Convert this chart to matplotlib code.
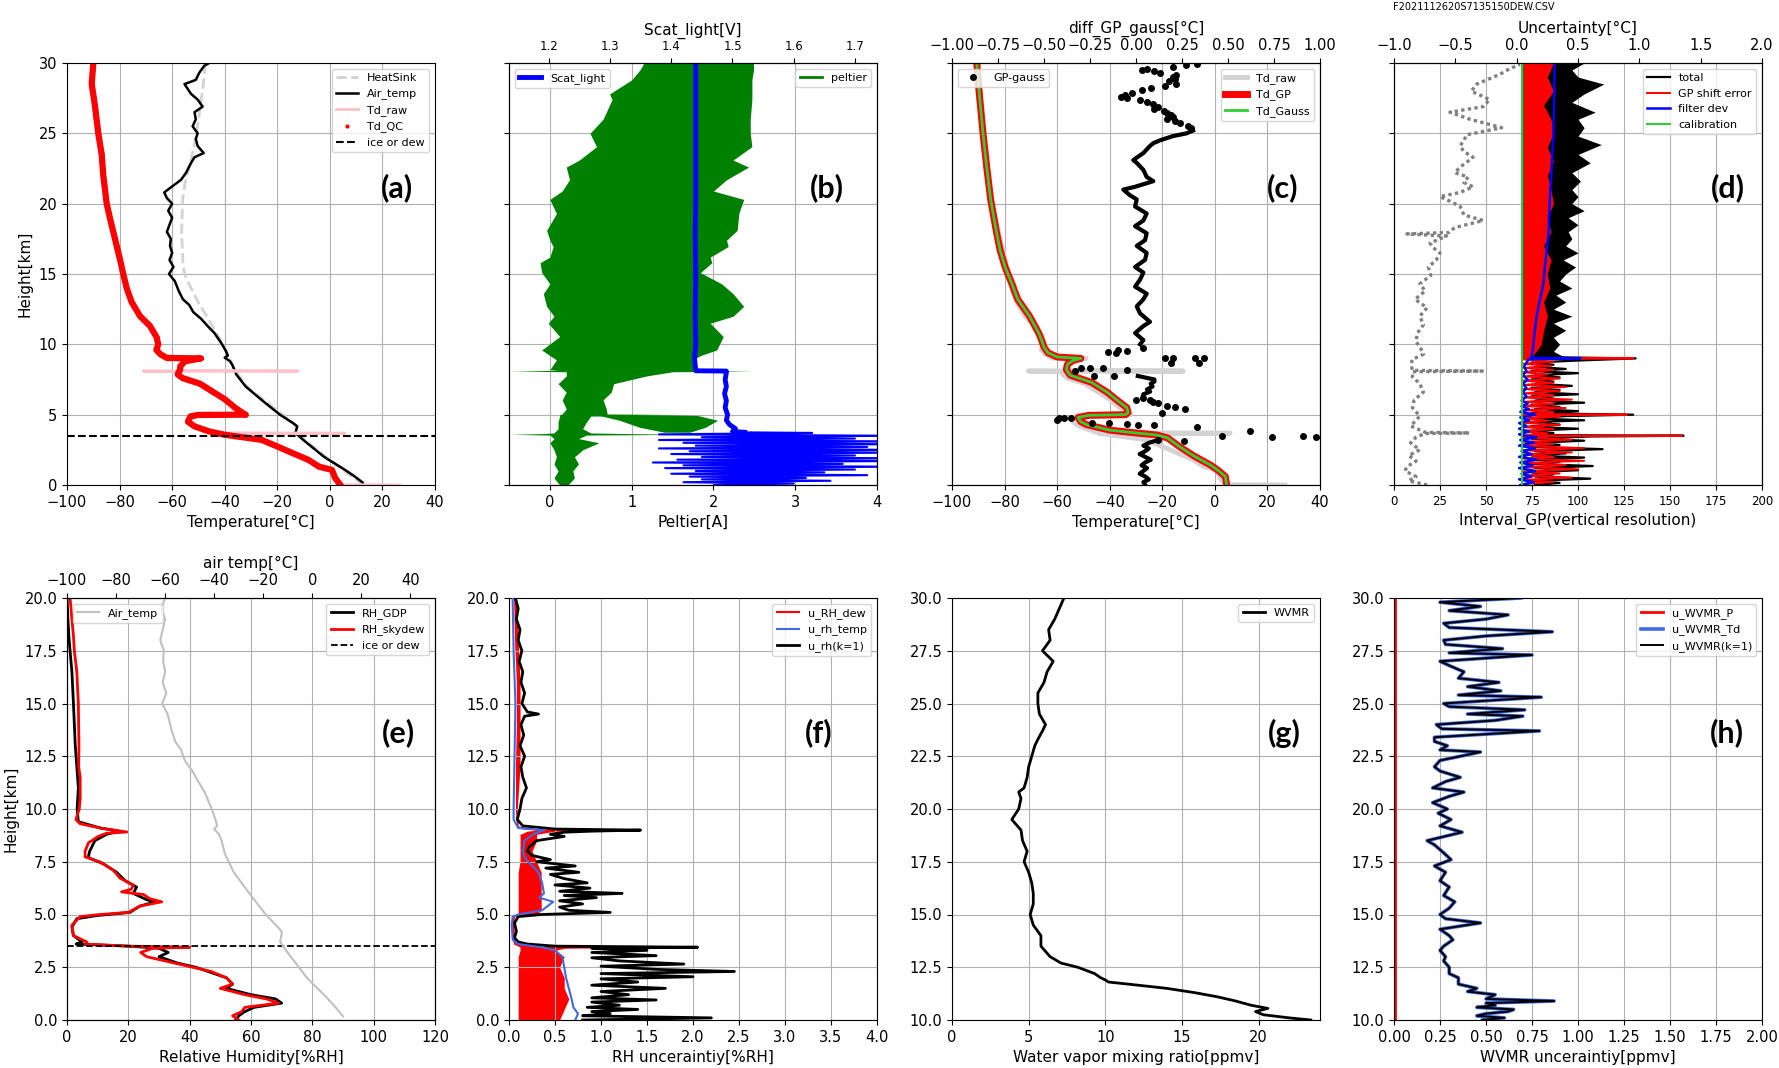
import numpy as np
import matplotlib
matplotlib.use('Agg')
import matplotlib.pyplot as plt

nan = np.nan

# ---------------- (a) temperature profiles [km, degC] ----------------
air_h = [0.17, 0.6, 1.07, 2.0, 3.2, 3.7, 4.17, 4.4, 5.0, 6.05, 7.0, 7.86, 8.5, 8.8, 9.05, 9.2, 9.5, 10.0, 10.8, 11.3,
         11.8, 12.3, 12.8, 13.2, 13.8, 14.5, 15.0, 15.5, 16.0, 16.5, 17.0, 17.5, 18.0, 18.5, 19.0, 19.5, 20.0, 20.4,
         20.8, 21.0, 21.7, 22.2, 22.9, 23.3, 23.6, 24.1, 24.6, 25.0, 25.5, 26.0, 26.5, 26.9, 27.4, 27.8, 28.5, 28.8,
         29.3, 29.8, 30.0]
air_t = [12.5, 9.5, 5.8, -2.2, -10.1, -13.1, -12.4, -14.0, -19.0, -26.0, -32.0, -35.6, -37.0, -38.0, -40.0, -38.8,
         -39.5, -41.0, -43.9, -46.5, -48.9, -52.0, -53.5, -55.9, -57.5, -59.0, -61.2, -59.5, -61.0, -60.0, -60.8,
         -60.5, -62.0, -61.0, -60.0, -61.5, -60.0, -62.0, -63.0, -61.6, -56.6, -54.7, -52.8, -51.5, -48.0, -50.3,
         -51.0, -50.3, -52.2, -51.0, -51.5, -48.4, -50.3, -52.8, -55.3, -51.0, -49.7, -47.8, -45.9]

heatsink_h = [0.0, 1.0, 2.0, 3.5, 4.15, 4.6, 7.0, 8.4, 10.0, 10.8, 13.2, 14.8, 15.5, 17.9, 20.3, 21.45, 23.3, 25.0,
              28.8, 30.0]
heatsink_t = [13.0, 5.5, -1.5, -11.5, -12.7, -15.2, -31.7, -36.8, -40.6, -43.1, -50.7, -54.9, -55.8, -56.4, -56.0,
              -55.1, -52.6, -50.7, -47.9, -47.5]

td_qc_h = [0.0, 0.5, 1.07, 1.31, 1.79, 2.26, 2.74, 3.21, 3.57, 3.81, 4.17, 4.5, 4.88, 4.98, 5.0, 5.1, 5.5, 6.1, 6.8,
           7.2, 7.6, 7.86, 8.2, 8.45, 8.8, 9.0, 9.03, 9.3, 9.6, 10.0, 10.5, 11.3, 12.0, 13.0, 14.0, 15.0, 16.0, 17.0,
           18.0, 19.0, 20.0, 22.0, 23.5, 25.0, 27.0, 28.5, 30.0]
td_qc_t = [4.0, 2.0, 0.8, -4.2, -8.2, -14.1, -20.0, -26.0, -40.0, -45.9, -51.5, -54.0, -53.0, -50.0, -32.0, -33.0,
           -36.1, -40.0, -46.0, -49.4, -56.0, -57.9, -57.0, -56.9, -55.0, -49.0, -62.0, -64.5, -66.0, -65.3, -65.9,
           -68.4, -72.2, -75.4, -77.3, -78.6, -79.8, -81.1, -82.4, -83.7, -84.9, -86.2, -86.8, -88.1, -89.4, -90.6,
           -90.0]

td_raw_h = [0.0, 0.02, 0.5, 1.07, 1.31, 1.79, 2.26, 2.74, 3.21, 3.57, 3.66, 3.68, 3.68, 3.7, 3.81, 4.17, 4.5, 4.88,
            4.98, 5.0, 5.1, 5.5, 6.1, 6.8, 7.2, 7.6, 7.86, 8.08, 8.1, 8.1, 8.12, 8.2, 8.45, 8.8, 9.0, 9.03, 9.3, 9.6,
            10.0, 10.5, 11.3, 12.0, 13.0, 14.0, 15.0, 16.0, 17.0, 18.0, 19.0, 20.0, 22.0, 23.5, 25.0, 27.0, 28.5,
            30.0]
td_raw_t = [26.6, 4.0, 2.0, 0.8, -4.2, -8.2, -14.1, -20.0, -26.0, -40.0, -44.0, -44.0, 5.8, -44.0, -45.9, -51.5,
            -54.0, -53.0, -50.0, -32.0, -33.0, -36.1, -40.0, -46.0, -49.4, -56.0, -57.9, -57.0, -71.0, -12.0, -57.0,
            -57.0, -56.9, -55.0, -49.0, -62.0, -64.5, -66.0, -65.3, -65.9, -68.4, -72.2, -75.4, -77.3, -78.6, -79.8,
            -81.1, -82.4, -83.7, -84.9, -86.2, -86.8, -88.1, -89.4, -90.6, -90.0]

ice_dew_h = 3.5

# ---------------- (b) peltier current [A] and scattered light [V] ----------------
peltier_h = [0.0, 0.5, 1.0, 1.5, 2.0, 2.5, 3.0, 3.3, 3.55, 3.6, 3.65, 3.7, 4.0, 4.5, 4.9, 5.0, 5.05, 5.4, 6.05, 6.6,
             7.2, 7.75, 8.05, 8.1, 8.15, 8.2, 8.9, 9.2, 9.6, 10.55, 11.5, 12.0, 12.7, 13.6, 14.3, 15.1, 15.8, 16.2,
             16.95, 17.4, 18.1, 19.3, 20.3, 20.9, 21.7, 22.6, 23.1, 24.05, 25.0, 26.0, 27.4, 27.8, 28.8, 29.5, 30.0]
peltier_lo = [0.12, 0.05, 0.1, 0.05, 0.08, 0.05, 0.0, 0.05, 0.0, -0.49, -0.1, 0.05, 0.1, 0.1, 0.12, 0.12, 0.15, 0.2,
              0.15, 0.2, 0.1, 0.2, 0.2, -0.49, 0.1, 0.0, 0.08, 0.0, -0.1, 0.12, -0.02, 0.05, -0.04, -0.08, 0.0, -0.1,
              -0.12, 0.0, 0.04, 0.0, -0.04, 0.08, 0.0, 0.15, 0.24, 0.2, 0.36, 0.57, 0.49, 0.65, 0.76, 0.73, 1.0, 1.1,
              1.15]
peltier_hi = [0.22, 0.3, 0.28, 0.35, 0.3, 0.4, 0.6, 0.35, 0.45, 1.7, 1.0, 0.5, 0.4, 0.45, 0.5, 1.75, 0.7, 0.69, 0.65,
              0.75, 0.78, 1.18, 1.5, 2.49, 1.75, 1.75, 1.75, 1.84, 2.04, 2.12, 1.96, 2.24, 2.37, 2.24, 2.1, 1.84, 1.98,
              1.96, 2.18, 2.16, 2.29, 2.31, 2.37, 2.0, 2.16, 2.43, 2.24, 2.47, 2.45, 2.45, 2.47, 2.47, 2.47, 2.49,
              2.49]
peltier_wedge_h = [3.75, 4.1, 4.6, 4.95]
peltier_wedge_lo = [1.4, 1.1, 0.85, 0.6]
peltier_wedge_hi = [1.71, 1.9, 2.05, 1.8]

scat_h = [3.75, 3.8, 4.0, 4.3, 4.6, 5.0, 5.5, 6.0, 6.5, 7.0, 7.5, 8.0, 8.1, 8.12, 9.0, 10.0, 12.0, 15.0, 18.0, 20.0,
          22.0, 25.0, 28.0, 30.0]
scat_v = [1.52, 1.50, 1.505, 1.495, 1.49, 1.492, 1.488, 1.49, 1.487, 1.49, 1.488, 1.49, 1.49, 1.44, 1.438, 1.44,
          1.439, 1.44, 1.439, 1.44, 1.44, 1.44, 1.44, 1.44]
scat_noise_h = [0.0, 0.1, 0.2, 0.3, 0.4, 0.5, 0.6, 0.7, 0.8, 0.9, 1.0, 1.1, 1.2, 1.3, 1.4, 1.5, 1.6, 1.7, 1.8, 1.9,
                2.0, 2.1, 2.2, 2.3, 2.4, 2.5, 2.6, 2.7, 2.8, 2.9, 3.0, 3.1, 3.2, 3.3, 3.4, 3.5, 3.6, 3.7, 3.75]
scat_noise_v = [1.47, 1.60, 1.42, 1.66, 1.45, 1.62, 1.43, 1.72, 1.40, 1.65, 1.44, 1.70, 1.39, 1.76, 1.42, 1.68,
                1.37, 1.76, 1.41, 1.76, 1.45, 1.70, 1.40, 1.76, 1.43, 1.76, 1.38, 1.72, 1.44, 1.76, 1.42, 1.76,
                1.38, 1.70, 1.45, 1.76, 1.38, 1.63, 1.50]

# ---------------- (c) GP / Gauss dew point and their difference ----------------
td_gp_h = [0.0, 0.6, 1.0, 1.4, 2.1, 2.8, 3.35, 3.55, 3.7, 3.9, 4.3, 4.5, 4.8, 4.95, 5.0, 5.15, 5.5, 6.0, 6.6, 7.3,
           7.8, 8.2, 8.6, 8.85, 9.0, 9.1, 9.4, 9.8, 10.3, 10.8, 12.0, 13.2, 14.3, 15.5, 16.7, 17.9, 20.3, 22.6, 25.0,
           27.4, 30.0]
td_gp_t = [4.5, 4.0, 1.5, -1.5, -8.3, -14.0, -18.0, -22.0, -30.0, -40.0, -49.0, -51.0, -52.0, -48.0, -34.0, -33.0,
           -33.5, -37.0, -41.0, -47.0, -55.0, -56.5, -56.0, -54.0, -51.0, -60.0, -63.5, -65.0, -65.9, -67.0, -70.5,
           -75.0, -77.2, -79.8, -81.7, -83.0, -85.3, -86.8, -88.2, -89.4, -90.6]

gp_line_h = [25.2, 25.0, 24.8, 24.5, 24.3, 24.1, 23.6, 23.1, 22.9, 22.4, 21.9, 21.6, 21.2, 21.0, 20.6, 20.3, 19.8,
             19.3, 18.8, 18.4, 17.9, 17.4, 17.0, 16.5, 16.0, 15.5, 15.1, 14.6, 14.1, 13.6, 13.2, 12.7, 12.2, 11.6,
             11.3, 10.8, 10.3, 10.0, nan,
             7.75, 7.5, 7.35, 7.2, 7.0, 6.8, 6.64, 6.45, 6.29, nan,
             3.2, 3.0, 2.8, 2.6, 2.4, 2.2, 2.0, 1.8, 1.6, 1.4, 1.2, 1.0, 0.8, 0.6, 0.4, 0.2, 0.0]
gp_line_v = [0.31, 0.275, 0.2, 0.13, 0.094, 0.076, 0.04, -0.015, 0.004, 0.04, 0.058, 0.094, -0.005, -0.069, -0.033,
             0.004, -0.005, 0.058, 0.04, -0.005, 0.058, 0.049, 0.004, 0.058, 0.049, -0.005, 0.04, 0.022, -0.005,
             0.058, 0.04, 0.004, 0.022, 0.076, 0.04, -0.005, 0.04, 0.022, nan,
             0.01, 0.10, 0.10, 0.08, 0.09, 0.06, 0.077, 0.04, 0.037, nan,
             0.12, 0.07, 0.04, 0.07, 0.05, 0.02, 0.05, 0.08, 0.05, 0.03, 0.06, 0.04, 0.02, 0.05, 0.07, 0.04, 0.05]
gp_dot_h = [29.9, 29.85, 29.75, 29.6, 29.5, 29.4, 29.3, 29.15, 29.0, 28.85, 28.7, 28.5, 28.35, 28.2, 28.05, 27.9,
            27.75, 27.6, 27.5, 27.35, 27.2, 27.05, 26.9, 26.75, 26.6, 26.45, 26.3, 26.15, 26.0, 25.85, 25.7, 25.55,
            25.4,
            9.75, 9.6, 9.55, 9.45, 9.4, 9.05, 9.05, 9.02, 9.0, 8.7, 8.7, 8.35, 8.35, 8.3, 8.1, 8.15, 7.75, 7.75,
            6.15, 6.05, 6.05, 5.93, 5.8, 5.6, 5.57, 5.4, 5.1,
            4.78, 4.78, 4.75, 4.63, 4.4, 4.4, 4.35, 4.3, 4.3, 4.1, 3.85,
            3.45, 3.42, 3.45, 3.4, 3.2, 3.1]
gp_dot_v = [0.33, 0.27, 0.2, 0.06, 0.03, 0.1, 0.13, 0.22, 0.2, 0.21, 0.18, 0.22, 0.16, 0.08, 0.03, -0.02, -0.06,
            -0.08, -0.05, 0.02, 0.06, 0.09, 0.12, 0.1, 0.15, 0.17, 0.19, 0.2, 0.17, 0.21, 0.24, 0.28, 0.3,
            0.04, -0.1, -0.05, -0.15, -0.11, 0.16, 0.2, 0.32, 0.37, 0.19, 0.34, -0.18, -0.25, -0.3, -0.33, -0.05,
            -0.23, -0.12,
            0.04, 0.0, 0.076, 0.09, 0.117, 0.17, 0.21, 0.267, 0.139,
            -0.42, -0.39, -0.355, -0.43, -0.24, -0.145, -0.05, 0.01, 0.1, 0.33, 0.62,
            0.47, 0.74, 0.91, 0.98, 0.12, 0.26]

# ---------------- (d) GP interval and uncertainty budget ----------------
interval_h = [0.0, 0.3, 0.6, 1.0, 1.3, 1.7, 2.1, 2.5, 3.0, 3.4, 3.66, 3.7, 3.74, 4.2, 4.6, 4.9, 5.5, 6.05, 6.6, 7.2,
              7.7, 8.05, 8.1, 8.15, 8.4, 8.9, 9.3, 9.6, 10.2, 10.8, 11.4, 12.0, 12.6, 13.2, 13.8, 14.3, 14.9, 15.5,
              16.0, 16.5, 16.9, 17.2, 17.5, 17.7, 17.85, 17.95, 18.3, 18.8, 19.2, 19.8, 20.2, 20.5, 20.8, 21.2, 21.5,
              21.9, 22.2, 22.6, 23.0, 23.3, 23.7, 24.1, 24.5, 24.9, 25.4, 25.7, 26.0, 26.5, 26.9, 27.4, 28.0, 28.5,
              29.2, 29.6, 29.9]
interval_v = [18, 8, 12, 6, 7, 12, 8, 14, 9, 12, 17, 41, 17, 9, 12, 14, 10, 11, 16, 14, 10, 10, 48, 10, 9.6, 9.7,
              16, 15, 12, 12.7, 16, 14, 18, 11.4, 17, 14, 20, 18.7, 23, 25, 21, 19.6, 25, 28.6, 7, 30, 33, 48.5, 38,
              36, 30, 25, 36, 43, 38, 40.3, 33, 36, 40, 43, 38, 35.9, 38, 39.5, 58.5, 50, 41.3, 30.4, 48.5, 52, 42,
              45, 57.6, 63, 68.5]

# total uncertainty: noisy trace below 9 km, dense band above
unc_total_low_h = [0.0, 0.15, 0.3, 0.45, 0.6, 0.75, 0.9, 1.05, 1.2, 1.35, 1.5, 1.65, 1.8, 1.95, 2.1, 2.25, 2.4, 2.55,
                   2.7, 2.85, 3.0, 3.15, 3.3, 3.45, 3.5, 3.55, 3.7, 3.85, 4.0, 4.15, 4.3, 4.45, 4.6, 4.75, 4.9, 5.0,
                   5.1, 5.25, 5.4, 5.55, 5.7, 5.85, 6.0, 6.15, 6.3, 6.45, 6.6, 6.75, 6.9, 7.05, 7.2, 7.35, 7.5, 7.65,
                   7.8, 7.95, 8.1, 8.25, 8.4, 8.55, 8.7, 8.85, 9.0, 9.1]
unc_total_low_v = [0.15, 0.35, 0.12, 0.6, 0.15, 0.3, 0.12, 0.5, 0.15, 0.62, 0.12, 0.35, 0.15, 0.55, 0.12, 0.4, 0.15,
                   0.7, 0.12, 0.35, 0.15, 0.55, 0.12, 0.6, 1.36, 0.1, 0.3, 0.08, 0.5, 0.1, 0.35, 0.08, 0.55, 0.1,
                   0.4, 0.95, 0.12, 0.5, 0.15, 0.35, 0.12, 0.55, 0.15, 0.3, 0.12, 0.5, 0.15, 0.35, 0.12, 0.45, 0.15,
                   0.3, 0.12, 0.35, 0.15, 0.5, 0.12, 0.4, 0.15, 0.3, 0.12, 0.5, 0.97, 0.15]
unc_total_up_h = [9.05, 9.5, 10.0, 10.5, 11.0, 11.5, 12.0, 12.5, 13.0, 13.5, 14.0, 14.5, 15.0, 15.5, 16.0, 16.5, 17.0,
                  17.5, 18.0, 18.5, 19.0, 19.5, 20.0, 20.5, 21.0, 21.6, 22.2, 22.9, 23.5, 24.2, 24.8, 25.4, 26.0,
                  26.5, 27.2, 27.8, 28.5, 29.0, 29.5, 30.0]
unc_total_up_lo = 0.05
unc_total_up_hi = [0.4, 0.3, 0.35, 0.3, 0.4, 0.3, 0.45, 0.3, 0.4, 0.32, 0.45, 0.35, 0.4, 0.48, 0.38, 0.5, 0.4, 0.45,
                   0.42, 0.5, 0.42, 0.55, 0.45, 0.5, 0.45, 0.52, 0.45, 0.6, 0.5, 0.69, 0.5, 0.55, 0.5, 0.64, 0.45,
                   0.55, 0.71, 0.5, 0.45, 0.55]

# GP shift error: noisy trace below 9 km, dense band above
unc_gp_low_h = [0.07, 0.22, 0.37, 0.52, 0.67, 0.82, 0.97, 1.12, 1.27, 1.42, 1.57, 1.72, 1.87, 2.02, 2.17, 2.32, 2.47,
                2.62, 2.77, 2.92, 3.07, 3.22, 3.37, 3.47, 3.5, 3.53, 3.67, 3.82, 3.97, 4.12, 4.27, 4.42, 4.57, 4.72,
                4.87, 4.97, 5.0, 5.03, 5.17, 5.32, 5.47, 5.62, 5.77, 5.92, 6.07, 6.22, 6.37, 6.52, 6.67, 6.82, 6.97,
                7.12, 7.27, 7.42, 7.57, 7.72, 7.87, 8.02, 8.17, 8.32, 8.47, 8.62, 8.77, 8.92, 8.97, 9.0, 9.03]
unc_gp_low_v = [0.05, 0.3, 0.05, 0.45, 0.06, 0.35, 0.05, 0.5, 0.06, 0.4, 0.05, 0.55, 0.06, 0.3, 0.05, 0.45, 0.06,
                0.55, 0.05, 0.3, 0.06, 0.45, 0.05, 0.3, 1.35, 0.05, 0.25, 0.05, 0.3, 0.05, 0.35, 0.05, 0.25, 0.05,
                0.35, 0.05, 0.9, 0.05, 0.3, 0.06, 0.4, 0.05, 0.3, 0.06, 0.45, 0.05, 0.3, 0.06, 0.35, 0.05, 0.4, 0.06,
                0.3, 0.05, 0.35, 0.06, 0.25, 0.05, 0.3, 0.06, 0.28, 0.05, 0.3, 0.06, 0.05, 0.95, 0.08]
unc_gp_up_h = [9.05, 10.0, 11.0, 12.0, 13.0, 14.0, 15.0, 16.0, 17.0, 18.0, 19.0, 20.0, 21.0, 22.0, 23.0, 24.0, 25.0,
               26.0, 27.0, 28.0, 29.0, 30.0]
unc_gp_up_lo = 0.055
unc_gp_up_hi = [0.12, 0.2, 0.22, 0.25, 0.22, 0.27, 0.25, 0.28, 0.22, 0.28, 0.25, 0.3, 0.28, 0.25, 0.3, 0.25, 0.3,
                0.28, 0.22, 0.3, 0.25, 0.3]

unc_filter_h = [0.0, 0.2, 0.4, 0.6, 0.8, 1.0, 1.2, 1.4, 1.6, 1.8, 2.0, 2.2, 2.4, 2.6, 2.8, 3.0, 3.2, 3.4, 3.5, 3.6,
                3.8, 4.0, 4.2, 4.4, 4.6, 4.8, 5.0, 5.2, 5.4, 5.6, 5.8, 6.0, 6.3, 6.6, 6.9, 7.2, 7.5, 7.8, 8.1, 8.4,
                8.7, 8.95, 9.0, 9.05, 9.9, 10.8, 12.0, 13.2, 14.3, 15.5, 17.9, 20.3, 22.6, 25.0, 30.0]
unc_filter_v = [0.03, 0.14, 0.02, 0.12, 0.04, 0.15, 0.02, 0.13, 0.03, 0.16, 0.02, 0.12, 0.04, 0.15, 0.02, 0.14, 0.03,
                0.16, 0.06, 0.02, 0.1, 0.02, 0.08, 0.02, 0.1, 0.03, 0.15, 0.03, 0.1, 0.04, 0.09, 0.04, 0.08, 0.05,
                0.08, 0.05, 0.09, 0.05, 0.08, 0.06, 0.08, 0.1, 0.52, 0.12, 0.136, 0.145, 0.163, 0.19, 0.218, 0.23,
                0.26, 0.27, 0.285, 0.30, 0.31]
unc_calib_h = [0.0, 30.0]
unc_calib_v = [0.04, 0.04]

# ---------------- (e) relative humidity [%RH] ----------------
rh_gdp_h = [0.0, 0.2, 0.4, 0.6, 0.8, 1.0, 1.2, 1.5, 1.7, 2.0, 2.2, 2.5, 2.7, 3.0, 3.2, 3.4, 3.5, 3.6, 3.7, 4.0, 4.4,
            4.8, 4.95, 5.1, 5.4, 5.6, 5.7, 6.0, 6.3, 6.6, 7.0, 7.4, 7.7, 8.0, 8.5, 8.8, 8.95, 9.1, 9.4, 10.0, 11.0,
            13.0, 15.0, 16.5, 17.5, 18.0, 19.0, 20.0]
rh_gdp_v = [55, 56, 58, 61, 70, 68, 60, 52, 54, 52, 48, 42, 36, 30, 33, 30, 20, 3, 4.9, 2.1, 1.6, 3.2, 9.7, 20.5,
            23.8, 28.7, 26, 21.6, 22.7, 19, 16.2, 11.9, 6.9, 7.4, 9.1, 12.9, 16.8, 10.8, 3.7, 3.3, 3.7, 2.7, 2.1,
            1.6, 1.0, 0.7, 0.3, 0.0]
rh_sky_h = [0.0, 0.2, 0.4, 0.6, 0.8, 1.0, 1.2, 1.5, 1.7, 2.0, 2.3, 2.5, 2.7, 3.0, 3.2, 3.4, 3.45, 3.5, 3.6, 3.7, 4.0,
            4.5, 4.9, 5.0, 5.1, 5.4, 5.6, 5.75, 5.95, 6.07, 6.2, 6.4, 6.72, 7.1, 7.49, 7.73, 8.0, 8.4, 8.7, 8.85,
            8.91, 9.1, 9.3, 9.5, 10.0, 10.5, 11.5, 12.0, 13.0, 15.0, 16.5, 17.5, 18.2, 19.0, 20.0]
rh_sky_v = [56, 54, 57, 58, 69, 65, 58, 50, 54, 52, 47, 41, 35, 26, 24, 28, 40, 20, 6, 6.4, 2.1, 1.6, 4.3, 10.8, 20.0,
            23.8, 30.9, 27, 24.9, 17.8, 21, 21.6, 17.3, 15.1, 10.8, 5.9, 5.9, 7.0, 10.2, 12.9, 19.5, 10.8, 4.3, 2.9,
            4.0, 4.3, 4.3, 3.8, 3.9, 3.7, 3.2, 2.4, 2.1, 1.6, 1.0]

# ---------------- (f) RH uncertainty [%RH] ----------------
u_dew_h = [0.0, 0.5, 1.0, 1.5, 2.0, 2.5, 3.0, 3.3, 3.4, 3.45, 3.5, 3.6, 4.0, 4.5, 4.9, 5.0, 5.2, 5.5, 6.0, 6.5, 7.0,
           7.5, 8.0, 8.5, 8.8, 8.95, 9.0, 9.05, 9.2, 10.0, 12.0, 14.0, 16.0, 18.0, 20.0]
u_dew_lo = [0.1, 0.1, 0.1, 0.1, 0.1, 0.1, 0.1, 0.12, 0.12, 0.12, 0.1, 0.05, 0.03, 0.03, 0.04, 0.1, 0.1, 0.1, 0.1,
            0.1, 0.1, 0.12, 0.12, 0.12, 0.12, 0.2, 0.3, 0.15, 0.08, 0.07, 0.07, 0.08, 0.08, 0.06, 0.05]
u_dew_hi = [0.55, 0.6, 0.65, 0.6, 0.6, 0.55, 0.6, 0.5, 0.6, 1.9, 0.3, 0.1, 0.06, 0.05, 0.06, 0.3, 0.35, 0.35, 0.35,
            0.35, 0.35, 0.3, 0.25, 0.3, 0.3, 0.5, 1.3, 0.3, 0.1, 0.09, 0.12, 0.12, 0.12, 0.1, 0.08]
u_temp_h = [0.0, 0.3, 0.6, 1.0, 1.5, 2.0, 2.5, 3.0, 3.3, 3.45, 3.6, 3.8, 4.5, 4.9, 5.0, 5.2, 5.4, 5.6, 5.8, 6.0, 6.5,
            7.0, 7.5, 7.7, 8.0, 8.5, 8.8, 9.0, 9.1, 9.5, 10.0, 12.5, 15.0, 17.5, 20.0]
u_temp_v = [0.72, 0.75, 0.7, 0.68, 0.65, 0.62, 0.6, 0.58, 0.5, 0.35, 0.1, 0.04, 0.03, 0.04, 0.1, 0.36, 0.42, 0.48,
            0.33, 0.38, 0.36, 0.32, 0.21, 0.17, 0.15, 0.17, 0.26, 0.38, 0.1, 0.05, 0.05, 0.06, 0.07, 0.05, 0.04]
u_k1_h = [0.0, 0.1, 0.2, 0.3, 0.4, 0.5, 0.6, 0.7, 0.85, 0.95, 1.05, 1.2, 1.35, 1.5, 1.65, 1.8, 1.95, 2.05, 2.2, 2.3,
          2.4, 2.55, 2.65, 2.8, 2.95, 3.05, 3.2, 3.3, 3.4, 3.45, 3.5, 3.6, 3.7, 3.9, 4.2, 4.6, 4.9, 5.0, 5.1, 5.2,
          5.35, 5.5, 5.65, 5.8, 5.9, 6.0, 6.1, 6.25, 6.4, 6.5, 6.7, 6.9, 7.0, 7.2, 7.3, 7.5, 7.6, 7.8, 8.0, 8.2, 8.5,
          8.7, 8.8, 8.9, 8.95, 9.0, 9.05, 9.2, 9.5, 10.0, 10.5, 11.0, 11.5, 12.0, 12.5, 13.0, 13.5, 14.0, 14.4, 14.5,
          14.6, 15.0, 15.5, 16.0, 16.5, 17.0, 17.5, 18.0, 18.5, 19.0, 19.5, 20.0]
u_k1_v = [0.8, 2.2, 0.8, 1.1, 0.9, 1.4, 0.85, 1.2, 0.9, 1.6, 0.9, 1.3, 1.0, 1.7, 0.9, 1.4, 1.0, 2.0, 1.0, 2.45, 1.6,
          1.0, 1.9, 1.2, 0.9, 1.6, 0.9, 1.5, 0.9, 2.05, 0.5, 0.2, 0.1, 0.06, 0.08, 0.06, 0.1, 0.35, 1.1, 0.65, 0.55,
          0.8, 0.55, 0.95, 0.6, 1.23, 0.55, 0.88, 0.5, 0.85, 0.6, 0.45, 0.76, 0.4, 0.72, 0.3, 0.45, 0.25, 0.2, 0.22,
          0.3, 0.6, 0.45, 0.6, 0.9, 1.43, 0.5, 0.15, 0.09, 0.12, 0.14, 0.19, 0.15, 0.13, 0.17, 0.12, 0.16, 0.13,
          0.17, 0.32, 0.2, 0.14, 0.17, 0.13, 0.15, 0.11, 0.14, 0.1, 0.12, 0.08, 0.1, 0.07]

# ---------------- (g) water vapour mixing ratio [ppmv] ----------------
wvmr_h = [10.0, 10.1, 10.25, 10.4, 10.55, 10.7, 10.9, 11.1, 11.3, 11.5, 11.7, 11.8, 11.9, 12.0, 12.2, 12.5, 12.7,
          13.0, 13.5, 14.0, 14.5, 15.0, 15.5, 16.0, 16.5, 17.0, 17.5, 18.0, 18.5, 19.0, 19.5, 20.0, 20.5, 20.8, 21.0,
          21.5, 22.0, 22.5, 23.0, 23.3, 23.7, 24.0, 24.5, 25.0, 25.5, 26.0, 26.5, 27.0, 27.5, 28.0, 28.5, 29.0, 29.5,
          30.0]
wvmr_v = [23.4, 22.0, 20.3, 19.8, 20.6, 19.5, 18.5, 17.3, 15.8, 14.0, 11.5, 10.2, 10.0, 9.7, 9.3, 8.2, 7.1, 6.4, 5.8,
          5.8, 5.3, 5.1, 5.3, 5.3, 5.2, 5.0, 4.7, 4.9, 4.6, 4.5, 3.9, 4.35, 4.5, 4.35, 4.7, 4.9, 5.0, 5.2, 5.4, 5.6,
          5.9, 6.1, 5.7, 5.6, 5.6, 6.0, 6.2, 6.6, 5.9, 6.4, 6.3, 6.7, 7.0, 7.3]

# ---------------- (h) WVMR uncertainty [ppmv] ----------------
u_wvmr_h = [10.0, 10.1, 10.2, 10.3, 10.4, 10.5, 10.6, 10.7, 10.8, 10.9, 11.0, 11.2, 11.35, 11.5, 11.7, 12.0, 12.2,
            12.5, 12.8, 13.0, 13.3, 13.5, 13.8, 14.0, 14.3, 14.6, 14.8, 15.0, 15.3, 15.6, 15.9, 16.3, 16.6, 17.0,
            17.3, 17.6, 18.0, 18.3, 18.5, 18.9, 19.2, 19.5, 19.8, 20.0, 20.3, 20.6, 20.8, 21.0, 21.3, 21.5, 21.8,
            22.0, 22.3, 22.7, 22.8, 23.0, 23.2, 23.4, 23.7, 23.8, 24.0, 24.2, 24.4, 24.5, 24.7, 24.85, 25.0, 25.3,
            25.4, 25.6, 25.8, 26.0, 26.2, 26.5, 26.8, 27.0, 27.3, 27.4, 27.6, 27.8, 28.0, 28.2, 28.4, 28.6, 28.8,
            29.0, 29.2, 29.4, 29.6, 29.8, 30.0]
u_wvmr_v = [0.48, 0.6, 0.45, 0.5, 0.62, 0.65, 0.45, 0.55, 0.5, 0.87, 0.5, 0.55, 0.4, 0.45, 0.35, 0.35, 0.3, 0.3,
            0.27, 0.28, 0.25, 0.27, 0.32, 0.3, 0.25, 0.47, 0.28, 0.25, 0.3, 0.33, 0.27, 0.3, 0.25, 0.28, 0.22, 0.31,
            0.26, 0.22, 0.18, 0.37, 0.25, 0.31, 0.24, 0.29, 0.21, 0.3, 0.38, 0.21, 0.28, 0.36, 0.25, 0.22, 0.25,
            0.47, 0.25, 0.29, 0.22, 0.22, 0.79, 0.26, 0.23, 0.55, 0.7, 0.4, 0.71, 0.3, 0.27, 0.8, 0.35, 0.58, 0.4,
            0.57, 0.35, 0.38, 0.3, 0.25, 0.75, 0.3, 0.59, 0.28, 0.27, 0.5, 0.86, 0.3, 0.27, 0.5, 0.62, 0.3, 0.47,
            0.25, 0.69]
u_wvmr_p_h = [10.0, 30.0]
u_wvmr_p_v = [0.008, 0.008]

panel_tags = ['(a)', '(b)', '(c)', '(d)', '(e)', '(f)', '(g)', '(h)']

# ---------------- layout ----------------
plt.rcParams['font.family'] = 'DejaVu Sans'
plt.rcParams['xtick.labelsize'] = 10.5
plt.rcParams['ytick.labelsize'] = 10.5
plt.rcParams['axes.labelsize'] = 11
plt.rcParams['legend.fontsize'] = 8

W, H = 1779, 1068
fig = plt.figure(figsize=(W / 100, H / 100), dpi=100)
col_left = [67, 509, 952, 1394]
row_top = [63, 598]
AX_W, AX_H = 368, 422


def panel(col, row):
    return fig.add_axes([col_left[col] / W, 1 - (row_top[row] + AX_H) / H, AX_W / W, AX_H / H])


# (a)
ax = panel(0, 0)
ax.plot(heatsink_t, heatsink_h, '--', color='lightgray', lw=2, label='HeatSink')
ax.plot(air_t, air_h, color='black', lw=1.8, label='Air_temp')
ax.plot(td_raw_t, td_raw_h, color='pink', lw=2, label='Td_raw')
ax.plot(td_qc_t, td_qc_h, color='red', lw=4.5)
ax.plot(td_qc_t, td_qc_h, '.', color='red', ms=4, label='Td_QC')
ax.axhline(ice_dew_h, color='black', ls='--', lw=1.5, label='ice or dew')
ax.set_xlim(-100, 40)
ax.set_ylim(0, 30)
ax.set_xticks(range(-100, 41, 20))
ax.set_yticks(range(0, 31, 5))
ax.grid(True)
ax.set_xlabel('Temperature[°C]')
ax.set_ylabel('Height[km]')
ax.legend(loc='upper right')

# (b)
ax = panel(1, 0)
ax.set_axisbelow(True)
ax.fill_betweenx(peltier_h, peltier_lo, peltier_hi, color='green', lw=0)
ax.fill_betweenx(peltier_wedge_h, peltier_wedge_lo, peltier_wedge_hi, color='green', lw=0)
ax.plot([], [], color='green', lw=2, label='peltier')
ax.set_xlim(-0.5, 4)
ax.set_ylim(0, 30)
ax.set_xticks(range(0, 5))
ax.set_yticks(range(0, 31, 5))
ax.tick_params(axis='y', labelleft=False)
ax.grid(True)
ax.set_xlabel('Peltier[A]')
ax.legend(loc='upper right')
ax2 = ax.twiny()
ax2.plot(scat_v, scat_h, color='blue', lw=3.5, label='Scat_light')
ax2.plot(scat_noise_v, scat_noise_h, color='blue', lw=1.5)
ax2.set_xlim(1.135, 1.736)
ax2.set_xticks([1.2, 1.3, 1.4, 1.5, 1.6, 1.7])
ax2.tick_params(axis='x', labelsize=8.5)
ax2.set_xlabel('Scat_light[V]')
ax2.legend(loc='upper left')

# (c)
ax = panel(2, 0)
ax.plot(td_raw_t, td_raw_h, color='lightgray', lw=3.5, label='Td_raw')
ax.plot(td_gp_t, td_gp_h, color='red', lw=5, label='Td_GP')
ax.plot(td_gp_t, td_gp_h, color='limegreen', lw=2, label='Td_Gauss')
ax.set_xlim(-100, 40)
ax.set_ylim(0, 30)
ax.set_xticks(range(-100, 41, 20))
ax.set_yticks(range(0, 31, 5))
ax.tick_params(axis='y', labelleft=False)
ax.grid(True)
ax.set_xlabel('Temperature[°C]')
handles, labels = ax.get_legend_handles_labels()
ax2 = ax.twiny()
ax2.plot(gp_line_v, gp_line_h, color='black', lw=3)
ax2.plot(gp_dot_v, gp_dot_h, '.', color='black', ms=8, label='GP-gauss')
ax2.set_xlim(-1, 1)
ax2.set_xticks(np.arange(-1, 1.01, 0.25))
ax2.set_xlabel('diff_GP_gauss[°C]')
leg = ax2.legend(handles, labels, loc='upper right')
ax2.add_artist(leg)
ax2.legend(loc='upper left')

# (d)
ax = panel(3, 0)
ax.plot(interval_v, interval_h, ls=(0, (1, 1)), color='gray', lw=2.4)
ax.set_xlim(0, 200)
ax.set_ylim(0, 30)
ax.set_xticks(range(0, 201, 25))
ax.set_yticks(range(0, 31, 5))
ax.tick_params(axis='y', labelleft=False)
ax.tick_params(axis='x', labelsize=8.5)
ax.grid(True)
ax.set_xlabel('Interval_GP(vertical resolution)')
ax2 = ax.twiny()
ax2.fill_betweenx(unc_total_up_h, unc_total_up_lo, unc_total_up_hi, color='black', lw=0)
ax2.plot(unc_total_low_v, unc_total_low_h, color='black', lw=1.6, label='total')
ax2.fill_betweenx(unc_gp_up_h, unc_gp_up_lo, unc_gp_up_hi, color='red', lw=0)
ax2.plot(unc_gp_low_v, unc_gp_low_h, color='red', lw=1.4, label='GP shift error')
ax2.plot(unc_filter_v, unc_filter_h, color='blue', lw=1.8, label='filter dev')
ax2.plot(unc_calib_v, unc_calib_h, color='limegreen', lw=1.5, label='calibration')
ax2.set_xlim(-1, 2)
ax2.set_xticks(np.arange(-1, 2.01, 0.5))
ax2.set_xlabel('Uncertainty[°C]')
ax2.legend(loc='upper right')
fig.text(1393 / W, 1 - 7 / H, 'F2021112620S7135150DEW.CSV', fontsize=7, ha='left', va='center')

# (e)
ax = panel(0, 1)
ax.plot(rh_gdp_v, rh_gdp_h, color='black', lw=2, label='RH_GDP')
ax.plot(rh_sky_v, rh_sky_h, color='red', lw=2, label='RH_skydew')
ax.axhline(ice_dew_h, color='black', ls='--', lw=1.3, label='ice or dew')
ax.set_xlim(0, 120)
ax.set_ylim(0, 20)
ax.set_xticks(range(0, 121, 20))
ax.set_yticks(np.arange(0, 20.1, 2.5))
ax.grid(True)
ax.set_xlabel('Relative Humidity[%RH]')
ax.set_ylabel('Height[km]')
ax.legend(loc='upper right')
ax2 = ax.twiny()
ax2.plot(air_t, air_h, color='silver', lw=1.5, label='Air_temp')
ax2.set_xlim(-100, 50)
ax2.set_xticks(range(-100, 41, 20))
ax2.set_xlabel('air temp[°C]')
ax2.legend(loc='upper left')

# (f)
ax = panel(1, 1)
ax.fill_betweenx(u_dew_h, u_dew_lo, u_dew_hi, color='red', lw=0)
ax.plot([], [], color='red', lw=1.5, label='u_RH_dew')
ax.plot(u_temp_v, u_temp_h, color='royalblue', lw=1.5, label='u_rh_temp', zorder=3)
ax.plot(u_k1_v, u_k1_h, color='black', lw=2, label='u_rh(k=1)', zorder=2)
ax.set_xlim(0, 4)
ax.set_ylim(0, 20)
ax.set_xticks(np.arange(0, 4.01, 0.5))
ax.set_yticks(np.arange(0, 20.1, 2.5))
ax.grid(True)
ax.set_xlabel('RH unceraintiy[%RH]')
ax.legend(loc='upper right')

# (g)
ax = panel(2, 1)
ax.plot(wvmr_v, wvmr_h, color='black', lw=2, label='WVMR')
ax.set_xlim(0, 24)
ax.set_ylim(10, 30)
ax.set_xticks(range(0, 21, 5))
ax.set_yticks(np.arange(10, 30.1, 2.5))
ax.grid(True)
ax.set_xlabel('Water vapor mixing ratio[ppmv]')
ax.legend(loc='upper right')

# (h)
ax = panel(3, 1)
ax.plot(u_wvmr_p_v, u_wvmr_p_h, color='red', lw=2, label='u_WVMR_P')
ax.plot(u_wvmr_v, u_wvmr_h, color='royalblue', lw=2.6, label='u_WVMR_Td')
ax.plot(u_wvmr_v, u_wvmr_h, color='black', lw=1.4, label='u_WVMR(k=1)')
ax.set_xlim(0, 2)
ax.set_ylim(10, 30)
ax.set_xticks(np.arange(0, 2.01, 0.25))
ax.set_yticks(np.arange(10, 30.1, 2.5))
ax.grid(True)
ax.set_xlabel('WVMR unceraintiy[ppmv]')
ax.legend(loc='upper right')

# panel tags
tag_xy = [(397, 188), (827, 188), (1283, 188), (1728, 188),
          (398, 733), (819, 733), (1284, 733), (1727, 733)]
for tag, (px, py) in zip(panel_tags, tag_xy):
    fig.text(px / W, 1 - py / H, tag, fontsize=22, fontweight='bold', family='Lato',
             ha='center', va='center')

fig.savefig('out.png', dpi=100)
